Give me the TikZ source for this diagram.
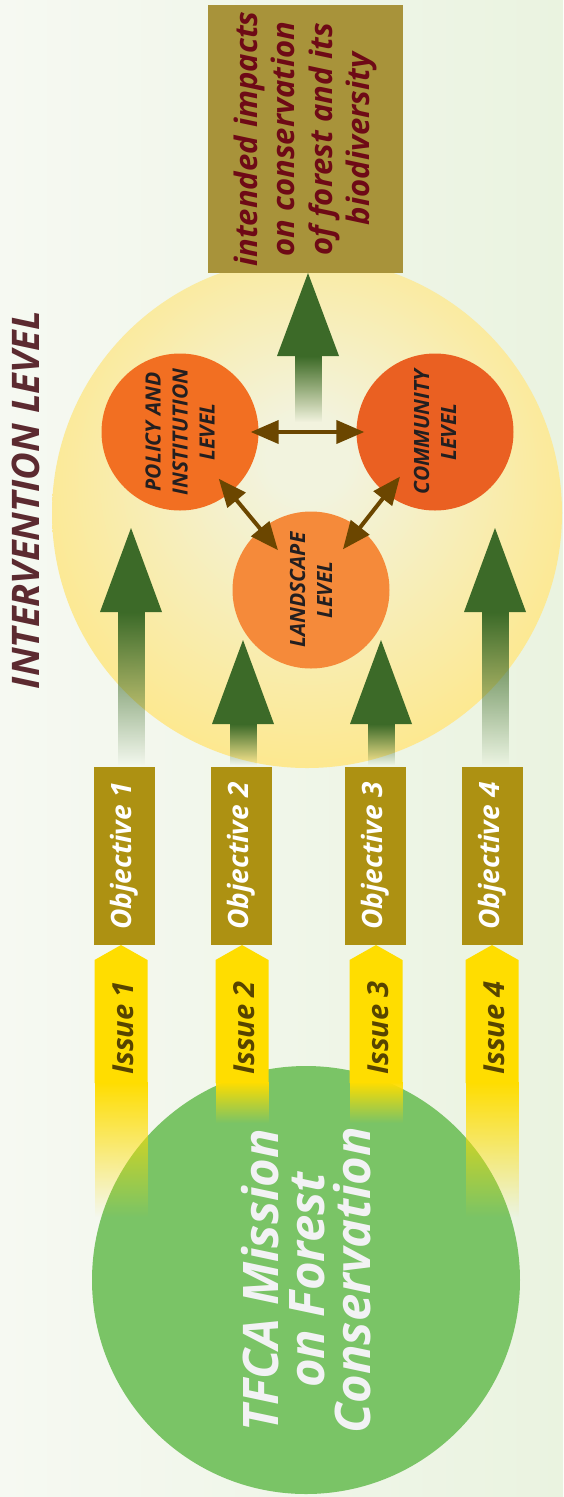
\documentclass[tikz,border=0pt]{standalone}
\usepackage{fontspec}
\setmainfont{Open Sans}
\usetikzlibrary{positioning,arrows.meta,fadings}

\definecolor{paleleft}{HTML}{F6F9F2}
\definecolor{paleright}{HTML}{EAF3E0}
\definecolor{glowin}{HTML}{F2F3DE}
\definecolor{glowout}{HTML}{FDE88E}
\definecolor{policyorange}{HTML}{F26F22}
\definecolor{communityorange}{HTML}{EA6022}
\definecolor{landscapeorange}{HTML}{F58A3A}
\definecolor{linkbrown}{HTML}{6B4600}
\definecolor{leafgreen}{HTML}{3C6A28}
\definecolor{impactgold}{HTML}{A8933A}
\definecolor{impactred}{HTML}{6E0A16}
\definecolor{objgold}{HTML}{AD9112}
\definecolor{issueyellow}{HTML}{FFDD00}
\definecolor{issuebrown}{HTML}{574400}
\definecolor{missiongreen}{HTML}{7AC466}
\definecolor{missionwhite}{HTML}{F2F2F4}
\definecolor{titlemaroon}{HTML}{5C2A30}
\definecolor{leveltext}{HTML}{231F20}

\pgfdeclareradialshading{glow}{\pgfpoint{0bp}{6bp}}{color(0bp)=(glowin); color(4bp)=(glowin); color(28bp)=(glowout); color(50bp)=(glowout)}
\tikzfading[name=fade down, top color=transparent!0, bottom color=transparent!100]

\tikzset{
	levelnode/.style={circle, minimum size=157pt, inner sep=0pt, align=center, rotate=90, text=leveltext, font=\fontsize{21}{27}\selectfont\bfseries\itshape},
	objbox/.style={fill=objgold, minimum width=178pt, minimum height=61pt, inner sep=0pt, rotate=90, text=white, font=\fontsize{28}{30}\selectfont\bfseries\itshape},
	issuelabel/.style={rotate=90, text=issuebrown, font=\fontsize{29}{30}\selectfont\bfseries\itshape},
	linkarrow/.style={linkbrown, line width=4pt, {Triangle[length=28pt,width=23pt]}-{Triangle[length=28pt,width=23pt]}}
}

\begin{document}
\begin{tikzpicture}[x=1pt, y=-1pt]
			\useasboundingbox (0,0) rectangle (563,1497);
			\shade[left color=paleleft, right color=paleright] (0,0) rectangle (563,1497);
			% intervention level
			\node[circle, minimum size=510pt, inner sep=0pt, shading=glow] (zone) at (307,513) {};
			\node[fill=impactgold, minimum width=268pt, minimum height=195pt, inner sep=0pt, align=center, rotate=90, text=impactred, font=\fontsize{31}{37.5}\selectfont\bfseries\itshape] (impact) at (305.5,139) {intended impacts\\on conservation\\of forest and its\\biodiversity};
			\foreach \x/\tip/\base/\bottom in {308/273/356/422, 131/528/612/765, 243/640/724/765, 381/640/724/765, 495/528/612/765}{
				\fill[leafgreen, path fading=fade down] (\x-13.5,\base) rectangle (\x+13.5,\bottom);
				\fill[leafgreen] (\x,\tip) -- (\x+31,\base) -- (\x-31,\base) -- cycle;
			}
			\node[levelnode, fill=policyorange] (policy) at (180,432) {POLICY AND\\INSTITUTION\\LEVEL};
			\node[levelnode, fill=communityorange] (community) at (435,432) {COMMUNITY\\LEVEL};
			\node[levelnode, fill=landscapeorange] (landscape) at (311,590) {LANDSCAPE\\LEVEL};
			\draw[linkarrow, shorten <=-8pt, shorten >=-8pt] (policy) -- (community);
			\draw[linkarrow, shorten <=-18pt, shorten >=-27pt] (policy) -- (landscape);
			\draw[linkarrow, shorten <=-22pt, shorten >=-27pt] (community) -- (landscape);
			\node[rotate=90, text=titlemaroon, font=\fontsize{38}{40}\selectfont\bfseries\itshape] (title) at (25.5,500) {INTERVENTION LEVEL};
			% objectives
			\foreach \n/\x in {1/124.5, 2/241.5, 3/375.5, 4/492.5}
				\node[objbox] (obj\n) at (\x,856) {Objective \n};
			% mission and issues
			\node[circle, minimum size=428pt, inner sep=0pt, fill=missiongreen] (mission) at (306,1280) {};
			\foreach \n/\x/\bottom in {1/121/1217, 2/242/1123, 3/376/1123, 4/492/1217}{
				\fill[issueyellow] (\x-26.5,1083) -- (\x-26.5,960) -- (\x,945) -- (\x+26.5,960) -- (\x+26.5,1083) -- cycle;
				\fill[issueyellow, path fading=fade down] (\x-26.5,1082) rectangle (\x+26.5,\bottom);
				\node[issuelabel] (issue\n) at (\x+2,1028) {Issue \n};
			}
			\node[rotate=90, align=center, text=missionwhite, font=\fontsize{49}{46}\selectfont\bfseries\itshape] (missiontext) at (mission) {TFCA Mission\\on Forest\\Conservation};
		\end{tikzpicture}
\end{document}
